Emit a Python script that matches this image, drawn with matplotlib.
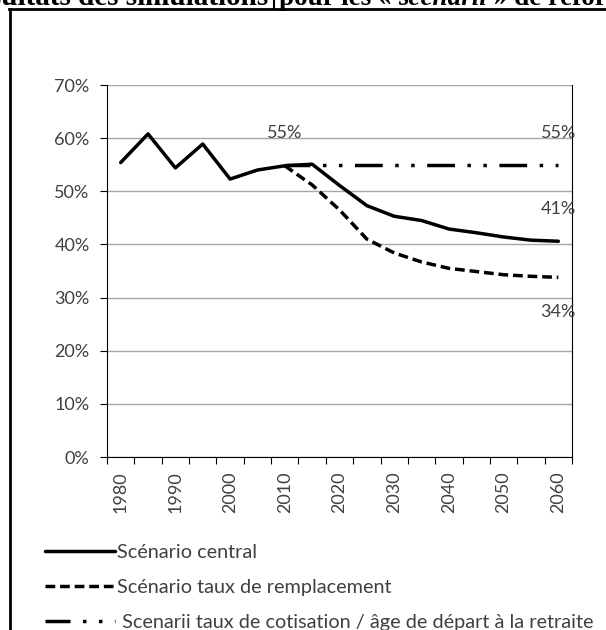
import matplotlib
matplotlib.use("Agg")
import matplotlib.pyplot as plt
from matplotlib.lines import Line2D
from matplotlib.ticker import PercentFormatter
import numpy as np

years = list(range(1980, 2061, 5))
central = [0.554, 0.608, 0.544, 0.589, 0.523, 0.540, 0.548, 0.551, 0.511,
           0.473, 0.453, 0.445, 0.429, 0.422, 0.414, 0.408, 0.406]
remplacement = [0.548, 0.512, 0.465, 0.410, 0.384, 0.367, 0.355, 0.349,
                0.343, 0.340, 0.338]
cotisation = [0.549] * 11
labels = ["Scénario central",
          "Scénario taux de remplacement",
          " Scenarii taux de cotisation / âge de départ à la retraite"]

plt.rcParams["font.family"] = ["Lato", "DejaVu Sans"]
plt.rcParams["lines.scale_dashes"] = False
W, H = 606, 630
grey = "#404040"

fig = plt.figure(figsize=(W / 100, H / 100), dpi=100)
ax = fig.add_axes([107 / W, 1 - 457 / H, 465 / W, 372 / H])

x = np.arange(len(years))
xs = x[years.index(2010):]

l1, = ax.plot(x, central, color="black", lw=2.5,
              solid_capstyle="round", solid_joinstyle="round")
l2, = ax.plot(xs, remplacement, color="black", lw=2.5,
              linestyle=(0, (7, 3.5)), dash_capstyle="butt")
l3, = ax.plot(xs, cotisation, color="black", lw=2.5,
              linestyle=(2, (20, 9, 2.5, 9, 2.5, 9)), dash_capstyle="butt")

# value labels
def tag(xv, yv, dy):
    ax.annotate(f"{yv:.0%}", (xv, yv), xytext=(0, dy), textcoords="offset points",
                ha="center", va="center", fontsize=13, color=grey)

tag(xs[0], cotisation[0], 23.5)
tag(xs[-1], cotisation[-1], 23.5)
tag(x[-1], central[-1], 23)
tag(x[-1], remplacement[-1], -25)

ax.set_xlim(-0.5, len(years) - 0.5)
ax.set_ylim(0, 0.7)
ax.set_yticks(np.arange(0, 0.71, 0.1))
ax.yaxis.set_major_formatter(PercentFormatter(1.0, decimals=0))
ax.yaxis.grid(True, color="#a6a6a6", lw=1.0)
ax.set_axisbelow(True)

ax.set_xticks(np.arange(-0.5, len(years), 1))
ax.set_xticklabels([])
ax.set_xticks(x[::2], [str(y) for y in years[::2]], minor=True)
ax.tick_params(axis="x", which="minor", length=0, pad=10.5,
               labelrotation=90, labelsize=13, labelcolor=grey)
ax.tick_params(axis="x", which="major", length=5, width=0.8, color="black")
ax.tick_params(axis="y", length=5, width=0.8, pad=7.5, labelsize=13,
               labelcolor=grey)

ax.spines["top"].set_visible(False)
for s in ("left", "bottom", "right"):
    ax.spines[s].set_linewidth(0.8)
    ax.spines[s].set_color("black")

ax.legend([l1, l2, l3], labels, loc="upper left",
          bbox_to_anchor=(45 / W, 1 - 544 / H), bbox_transform=fig.transFigure,
          frameon=False, borderpad=0, borderaxespad=0, handlelength=3.52,
          handletextpad=0.1, labelspacing=0.9, fontsize=14.3, labelcolor=grey)

# page frame around the figure
fy = 1 - 9 / H
fig.add_artist(Line2D([9.5 / W, 9.5 / W], [0, fy], transform=fig.transFigure,
                      color="black", lw=2))
fig.add_artist(Line2D([8.5 / W, 1], [fy, fy], transform=fig.transFigure,
                      color="black", lw=2))
fig.add_artist(Line2D([273.5 / W, 273.5 / W], [fy, 1], transform=fig.transFigure,
                      color="black", lw=1.5))

# heading, partly above the page edge
base = 1 - 5 / H
fig.text(268 / W, base, "Résultats des simulations", ha="right", va="baseline",
         family="Liberation Serif", weight="bold", fontsize=21)
renderer = fig.canvas.get_renderer()
xp = 279
for txt, style in [("pour les « ", "normal"), ("scenarii", "italic"),
                   (" » de réforme", "normal")]:
    t = fig.text(xp / W, base, txt, ha="left", va="baseline",
                 family="Liberation Serif", weight="bold", style=style,
                 fontsize=19.5)
    xp += t.get_window_extent(renderer).width

fig.savefig("out.png", dpi=100)
